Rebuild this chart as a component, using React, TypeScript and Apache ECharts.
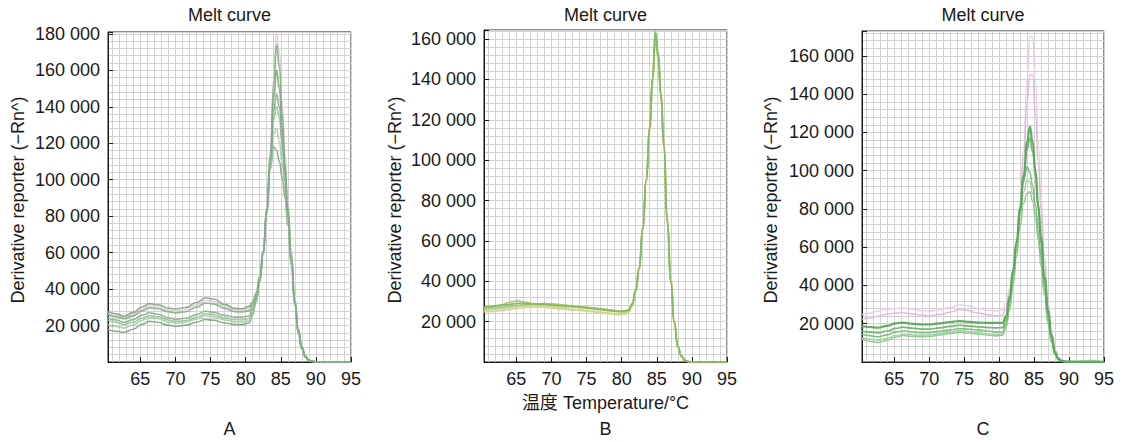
import React, { useEffect, useRef } from "react";
import * as echarts from "echarts";

// Temperature sample points (°C), shared by all curves
const T = [60.4, 61.5, 62.7, 64, 65.2, 66.3, 67.5, 69, 70, 71.5, 73, 74.3, 75.5, 77, 78.5, 79.5, 80.5,
  81, 81.5, 82, 82.5, 83, 83.5, 84, 84.4, 84.8, 85.2, 85.6, 86, 86.5, 87, 87.5, 88, 88.5, 89, 89.5, 90, 91, 93, 95];

// Panel A curves (derivative reporter, thousands)
const A1 = [27.8, 26.5, 25.1, 27.2, 30.2, 32.0, 31.4, 29.6, 29.1, 29.9, 32.6, 35.2, 34.4, 31.6, 29.4, 29.2, 30.5, 33, 38, 47, 61, 83, 110, 145, 160, 150, 128, 104, 82, 57, 33, 17, 8, 3, 1, 0.4, 0.1, 0, 0, 0];
const A2 = [26.0, 24.8, 23.7, 25.3, 28.0, 29.7, 29.2, 27.6, 27.0, 27.6, 30.0, 32.4, 31.8, 29.4, 27.6, 27.4, 28.2, 31, 36, 45, 60, 84, 113, 152, 174, 162, 136, 109, 85, 59, 34, 18, 8.5, 3.2, 1.1, 0.4, 0.1, 0, 0, 0];
const A3 = [24.2, 23.0, 21.8, 23.2, 25.6, 27.0, 26.2, 24.2, 23.4, 24.0, 26.0, 27.8, 27.2, 25.6, 24.6, 24.6, 25.2, 29, 35, 45, 60, 82, 108, 138, 147, 140, 122, 102, 80, 56, 32, 16.5, 7.5, 2.8, 0.9, 0.3, 0.1, 0, 0, 0];
const A4 = [23.0, 21.8, 20.6, 21.8, 24.0, 25.4, 24.8, 23.0, 22.3, 22.8, 24.6, 26.4, 25.9, 24.3, 23.2, 23.1, 23.8, 28, 34, 44, 59, 81, 106, 133, 140, 134, 118, 99, 79, 55, 32, 16, 7.3, 2.7, 0.9, 0.3, 0.1, 0, 0, 0];
const A5 = [17.8, 16.9, 16.3, 18.0, 20.6, 22.3, 21.8, 20.2, 19.6, 20.2, 21.8, 23.3, 22.9, 21.4, 20.5, 20.5, 21.4, 26, 33, 44, 59, 82, 106, 118, 116, 110, 101, 90, 75, 53, 31, 15.5, 7, 2.6, 0.9, 0.3, 0.1, 0, 0, 0];
const A6 = [20.5, 19.5, 18.7, 20.3, 22.8, 24.4, 23.8, 22.0, 21.3, 21.8, 23.6, 25.3, 24.8, 23.2, 22.0, 21.9, 22.6, 27, 34, 44, 59, 81, 105, 125, 128, 121, 109, 94, 77, 54, 31, 16, 7.2, 2.6, 0.9, 0.3, 0.1, 0, 0, 0];
const A7 = [26.8, 25.6, 24.4, 26.2, 29.0, 30.8, 30.2, 28.5, 28.0, 28.7, 31.3, 33.8, 33.1, 30.5, 28.5, 28.3, 29.4, 32, 37, 46, 61, 85, 115, 156, 180, 170, 143, 114, 89, 62, 36, 19, 9, 3.5, 1.2, 0.4, 0.1, 0, 0, 0];

// Panel B curves
const B1 = [27.2, 27.6, 28.0, 28.6, 29.0, 29.0, 28.8, 28.6, 28.2, 27.8, 27.4, 27.0, 26.6, 26.0, 25.4, 25.0, 25.2, 25.8, 28.5, 35.5, 46.5, 66, 90, 116, 140, 163, 153, 133, 108, 70, 40, 19.5, 7.5, 3, 0.8, 0.2, 0, 0, 0, 0];
const B2 = [26.8, 27.4, 28.2, 29.6, 30.3, 29.6, 28.8, 28.9, 28.6, 28.0, 27.6, 27.4, 27.0, 26.4, 25.8, 25.2, 25.4, 26, 29, 36, 47, 67, 91, 117, 141, 161, 151, 131, 107, 69, 39, 19, 7.2, 2.8, 0.8, 0.2, 0, 0, 0, 0];
const B3 = [25.4, 25.8, 26.2, 26.8, 27.2, 27.6, 27.8, 27.8, 27.4, 26.8, 26.2, 25.8, 25.4, 24.8, 24.2, 23.8, 24.0, 25, 28, 35, 46, 65, 89, 114, 138, 158, 150, 131, 108, 71, 41, 20, 7.8, 3.1, 0.9, 0.2, 0, 0, 0, 0];
const B4 = [24.8, 25.0, 25.4, 26.0, 26.6, 27.0, 27.2, 27.1, 26.8, 26.3, 25.8, 25.4, 25.0, 24.4, 23.8, 23.4, 23.6, 24.6, 27.5, 34.5, 45.5, 65, 89, 115, 139, 160, 152, 133, 110, 72, 42, 20.5, 8, 3.2, 0.9, 0.2, 0, 0, 0, 0];
const B5 = [26.2, 26.6, 27.0, 27.6, 28.0, 28.4, 28.7, 29.0, 28.8, 28.3, 27.8, 27.3, 26.8, 26.2, 25.6, 25.0, 24.8, 25.5, 28.5, 35.5, 46.5, 66, 90, 117, 141, 164, 153, 132, 107, 69, 39, 19, 7.3, 2.9, 0.8, 0.2, 0, 0, 0, 0];

// Panel C curves
const C1 = [24.9, 25.5, 26.6, 27.6, 28.0, 28.3, 27.6, 26.8, 26.6, 27.2, 28.5, 30.0, 29.4, 28.0, 27.0, 26.6, 27.0, 31, 38, 48, 62, 84, 112, 148, 170, 170, 146, 114, 86, 56, 31, 15, 6.5, 2.4, 0.8, 0.3, 0.1, 0, 0, 0];
const C2 = [22.4, 23.0, 24.0, 25.0, 25.6, 25.8, 25.2, 24.4, 24.2, 24.8, 26.0, 27.4, 26.9, 25.6, 24.6, 24.2, 24.6, 28, 35, 45, 59, 80, 106, 136, 150, 150, 130, 104, 79, 52, 29, 14, 6, 2.2, 0.7, 0.2, 0.1, 0, 0, 0];
const C3 = [18.8, 18.3, 17.9, 18.9, 20.2, 20.6, 20.0, 19.6, 19.6, 20.2, 20.9, 21.4, 21.0, 20.6, 20.4, 20.4, 20.5, 24, 34, 48, 63, 80, 97, 115, 123, 115, 100, 82, 65, 44, 27, 14, 5, 1.5, 0.5, 0.2, 0.1, 0, 0, 0];
const C4 = [16.2, 15.6, 15.2, 16.2, 17.6, 18.2, 17.7, 17.2, 17.2, 17.8, 18.6, 19.2, 18.9, 18.4, 18.0, 17.8, 18.0, 22, 32, 46, 62, 79, 96, 111, 117, 110, 97, 80, 62, 42, 25, 13, 4.8, 1.5, 0.5, 0.2, 0.1, 0, 0, 0];
const C5 = [14.5, 13.8, 13.2, 14.2, 15.6, 16.2, 15.7, 15.2, 15.3, 16.0, 16.8, 17.4, 17.2, 16.8, 16.2, 15.6, 15.8, 20, 30, 44, 60, 78, 94, 102, 99, 92, 82, 69, 55, 38, 22, 11, 4.2, 1.4, 0.4, 0.1, 0, 0, 0, 0];
const C6 = [12.7, 12.0, 11.4, 12.4, 13.8, 14.6, 14.3, 14.0, 14.2, 14.9, 15.7, 16.3, 16.0, 15.4, 14.8, 14.4, 14.8, 19, 29, 42, 58, 75, 89, 95, 94, 88, 78, 66, 52, 36, 21, 10.5, 4, 1.3, 0.4, 0.1, 0, 0, 0, 0];
const C7 = [11.8, 10.9, 10.2, 11.3, 13.0, 13.8, 13.5, 13.2, 13.4, 14.1, 14.9, 15.4, 15.2, 14.6, 14.0, 13.6, 14.0, 18, 27, 40, 55, 71, 83, 88, 89, 84, 75, 64, 50, 35, 20, 10, 3.8, 1.2, 0.4, 0.2, 0.3, 0.5, 0.8, 0.3];

const TITLE = "Melt curve";
const Y_NAME = "Derivative reporter (\u2212Rn^)";
const X_NAME = "温度 Temperature/°C";
const LETTERS = ["A", "B", "C"];
const X_MIN = 60.4;
const X_MAX = 95;
const Y_MAX = [181000, 164500, 173000];

const FONT = "'Liberation Sans', Arial, 'Noto Sans CJK SC', sans-serif";
const INK = "#1a1a1a";
const GRIDC = "#d3d1d3";

const LAYOUT = [
  { left: 108, top: 32, width: 243, height: 330, nameX: 17.5 },
  { left: 484, top: 30, width: 243, height: 332, nameX: 394.5 },
  { left: 862, top: 31, width: 242, height: 331, nameX: 770.5 },
];

const CURVES = [
  [
    { d: A7, c: "#e6c2de", w: 1.4 },
    { d: A5, c: "#88a888", w: 1.6 },
    { d: A6, c: "#aacaaa", w: 1.5 },
    { d: A4, c: "#98c698", w: 1.5 },
    { d: A3, c: "#93ae93", w: 1.6 },
    { d: A2, c: "#7db77d", w: 1.6 },
    { d: A1, c: "#8aa58a", w: 1.6 },
  ],
  [
    { d: B4, c: "#e4c99a", w: 1.6 },
    { d: B3, c: "#cdd888", w: 1.6 },
    { d: B5, c: "#9cc47c", w: 1.6 },
    { d: B2, c: "#a6c66c", w: 1.7 },
    { d: B1, c: "#86b862", w: 1.8 },
  ],
  [
    { d: C1, c: "#e8cbe3", w: 1.4 },
    { d: C2, c: "#dcb6d6", w: 1.4 },
    { d: C7, c: "#8cc68c", w: 1.5 },
    { d: C6, c: "#9fd09f", w: 1.5 },
    { d: C5, c: "#7dbd7d", w: 1.6 },
    { d: C4, c: "#6fb36f", w: 1.7 },
    { d: C3, c: "#5aa85a", w: 2.2 },
  ],
];

function buildOption() {
  const grid: any[] = [];
  const xAxis: any[] = [];
  const yAxis: any[] = [];
  const series: any[] = [];
  const graphic: any[] = [];

  LAYOUT.forEach((L, i) => {
    grid.push({
      left: L.left, top: L.top, width: L.width, height: L.height,
      show: true, borderColor: INK, borderWidth: 1, backgroundColor: "transparent",
    });
    xAxis.push({
      type: "value", gridIndex: i, min: X_MIN, max: X_MAX, minInterval: 5, maxInterval: 5,
      position: "bottom",
      axisLine: { show: true, onZero: false, lineStyle: { color: INK, width: 1 } },
      axisTick: { show: true, inside: true, length: 5, lineStyle: { color: INK, width: 1 } },
      axisLabel: {
        show: true, color: INK, fontSize: 18, fontFamily: FONT, margin: 8,
        formatter: (v: number) => (Math.abs(v % 5) < 1e-6 ? String(v) : ""),
      },
      splitLine: { show: false },
    });
    xAxis.push({
      type: "value", gridIndex: i, min: X_MIN, max: X_MAX, minInterval: 1, maxInterval: 1,
      position: "top",
      axisLine: { show: false }, axisTick: { show: false }, axisLabel: { show: false },
      splitLine: { show: true, lineStyle: { color: GRIDC, width: 1 } },
      z: 0,
    });
    yAxis.push({
      type: "value", gridIndex: i, min: 0, max: Y_MAX[i], interval: 20000,
      position: "left",
      axisLine: { show: true, onZero: false, lineStyle: { color: INK, width: 1 } },
      axisTick: { show: true, inside: true, length: 5, lineStyle: { color: INK, width: 1 } },
      axisLabel: {
        show: true, color: INK, fontSize: 18, fontFamily: FONT, margin: 8,
        formatter: (v: number) => (v > 0 && v % 20000 === 0 ? `${v / 1000} 000` : ""),
      },
      splitLine: { show: false },
    });
    yAxis.push({
      type: "value", gridIndex: i, min: 0, max: Y_MAX[i], interval: 4000,
      position: "right",
      axisLine: { show: false }, axisTick: { show: false }, axisLabel: { show: false },
      splitLine: { show: true, lineStyle: { color: GRIDC, width: 1 } },
      z: 0,
    });

    CURVES[i].forEach((cv, k) => {
      series.push({
        type: "line",
        xAxisIndex: 2 * i,
        yAxisIndex: 2 * i,
        data: T.map((t, j) => [t, cv.d[j] * 1000]),
        symbol: "none",
        showSymbol: false,
        smooth: 0.5,
        smoothMonotone: "x",
        clip: true,
        silent: true,
        z: 2 + k * 0.01,
        lineStyle: { color: cv.c, width: cv.w, opacity: 0.95 },
      });
    });

    const cx = L.left + L.width / 2;
    const txt = (text: string, x: number, y: number, extra: any = {}) => ({
      type: "text", x, y, silent: true, ...extra,
      style: {
        text, fill: INK, fontSize: 18, fontFamily: FONT,
        align: "center", verticalAlign: "middle",
        textAlign: "center", textVerticalAlign: "middle",
      },
    });
    graphic.push(txt(TITLE, cx, 14.5));
    graphic.push(txt(LETTERS[i], cx, 429));
    graphic.push(txt(Y_NAME, L.nameX, 200, { rotation: Math.PI / 2 }));
    if (i === 1) graphic.push(txt(X_NAME, cx, 403));
  });

  return {
    animation: false,
    backgroundColor: "#ffffff",
    textStyle: { fontFamily: FONT },
    grid, xAxis, yAxis, series, graphic,
  };
}

export default function App() {
  const ref = useRef<HTMLDivElement>(null);
  useEffect(() => {
    if (!ref.current) return;
    const chart = echarts.init(ref.current, null, { renderer: "svg" });
    chart.setOption(buildOption() as any);
    return () => chart.dispose();
  }, []);
  return (
    <div
      ref={ref}
      style={{ position: "fixed", left: 0, top: 0, width: 1126, height: 442, background: "#fff" }}
    />
  );
}
